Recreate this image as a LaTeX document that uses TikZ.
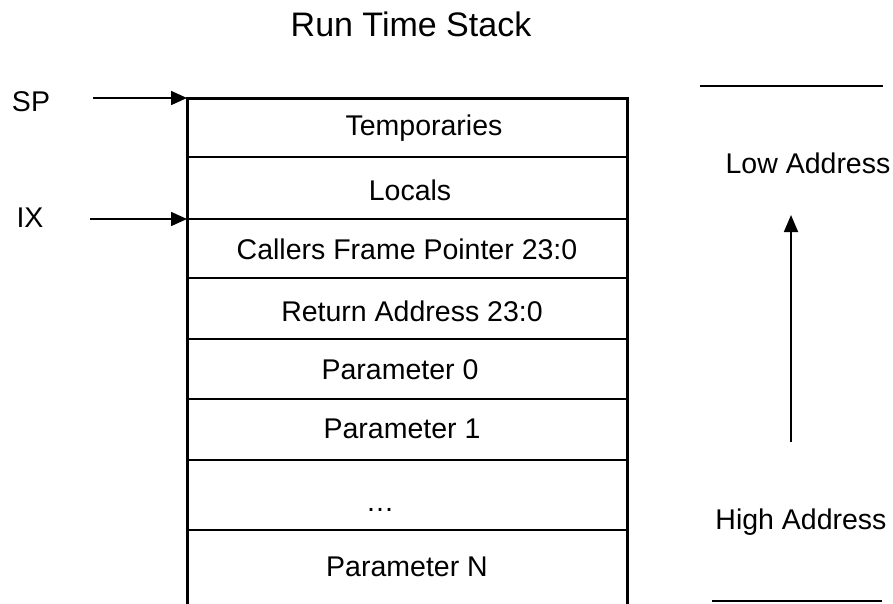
\documentclass[tikz,border=0pt]{standalone}
\usepackage{fontspec}
\setmainfont{Liberation Sans}
\usetikzlibrary{arrows.meta}
\begin{document}
\begin{tikzpicture}[x=1pt,y=-1pt,
  lbl/.style={inner sep=0pt,font=\fontsize{28.5}{30}\selectfont},
  ttl/.style={inner sep=0pt,font=\fontsize{34}{36}\selectfont},
  outer/.style={line width=3pt,black},
  rowline/.style={line width=2.2pt,black},
  ptr/.style={line width=1.6pt,-{Triangle[length=16pt,width=14pt]}},
  dirline/.style={line width=1.8pt,-{Triangle[length=17pt,width=14pt]}}]
\useasboundingbox (0,0) rectangle (893,603);
% title
\node[ttl] (title) at (411,24) {Run Time Stack};
% box corners
\coordinate (tl) at (187,98);
\coordinate (tr) at (627,98);
\coordinate (bl) at (187,606);
\coordinate (br) at (627,606);
\draw[outer] (bl) -- (tl) -- (tr) -- (br);
% row separators
\foreach \y in {157,219,278,339,399,460,530}{
  \draw[rowline] (187,\y) -- (627,\y);
}
% row labels
\node[lbl] (temp) at (424,128) {Temporaries};
\node[lbl] (loc) at (410,190) {Locals};
\node[lbl] (cfp) at (407,249) {Callers Frame Pointer 23:0};
\node[lbl] (ret) at (412,311) {Return Address 23:0};
\node[lbl] (p0) at (400,370) {Parameter 0};
\node[lbl] (p1) at (402,429) {Parameter 1};
\node[lbl,anchor=base] (dots) at (380,511) {\ldots};
\node[lbl] (pn) at (407,567) {Parameter N};
% pointers
\node[lbl] (sp) at (31,102) {SP};
\node[lbl] (ix) at (30,218) {IX};
\coordinate (spstart) at (93,98);
\coordinate (ixstart) at (90,219);
\coordinate (ixend) at (187,219);
\draw[ptr] (spstart) -- (tl);
\draw[ptr] (ixstart) -- (ixend);
% address direction
\coordinate (tla) at (700,86);
\coordinate (tlb) at (883,86);
\draw[line width=2.4pt] (tla) -- (tlb);
\coordinate (bla) at (712,601);
\coordinate (blb) at (882,601);
\draw[line width=2.4pt] (bla) -- (blb);
\node[lbl] (low) at (808,163) {Low Address};
\node[lbl] (high) at (801,522) {High Address};
\coordinate (arrtail) at (791,442);
\coordinate (arrtip) at (791,215);
\draw[dirline] (arrtail) -- (arrtip);
\end{tikzpicture}
\end{document}
